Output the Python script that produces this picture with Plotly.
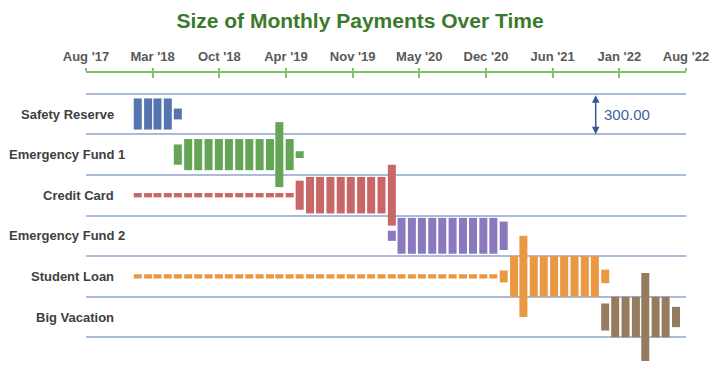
import numpy as np
import pandas as pd
import plotly.graph_objects as go

# ---------------- data ----------------
row_names = ["Safety Reserve", "Emergency Fund 1", "Credit Card",
             "Emergency Fund 2", "Student Loan", "Big Vacation"]
row_colors = ["#5674AD", "#65A556", "#C96767", "#8A79BF", "#EB9843", "#967C5F"]
row_starts = ["2018-01-01", "2018-05-01", "2018-01-01",
              "2020-02-01", "2018-01-01", "2021-11-01"]

safety_reserve = [230, 230, 230, 230, 80]
emergency_fund_1 = [150, 230, 230, 230, 230, 230, 230, 230, 230, 230, 480, 230, 50]
credit_card = [32, 32, 32, 32, 32, 32, 32, 32, 32, 32, 32, 32, 32, 32, 32, 32,
               215, 270, 270, 270, 270, 270, 270, 270, 270, 450]
emergency_fund_2 = [75, 265, 265, 265, 265, 265, 265, 265, 265, 265, 265, 210]
student_loan = [32, 32, 32, 32, 32, 32, 32, 32, 32, 32, 32, 32,
                32, 32, 32, 32, 32, 32, 32, 32, 32, 32, 32, 32,
                32, 32, 32, 32, 32, 32, 32, 32, 32, 32, 32, 32,
                88, 300, 600, 300, 300, 300, 300, 300, 300, 300, 100]
big_vacation = [200, 300, 300, 300, 650, 300, 300, 150]

row_values = [safety_reserve, emergency_fund_1, credit_card,
              emergency_fund_2, student_loan, big_vacation]

tick_labels = ["Aug '17", "Mar '18", "Oct '18", "Apr '19", "Nov '19",
               "May '20", "Dec '20", "Jun '21", "Jan '22", "Aug '22"]
x_start, x_end = "2017-07-30", "2022-07-01"

scale_value = 300.0   # height of one row in payment units

# ---------------- figure ----------------
n_rows = len(row_names)
row_h = scale_value
bar_width_ms = 24 * 86400000

fig = go.Figure()
for i, (name, vals, start, col) in enumerate(zip(row_names, row_values, row_starts, row_colors)):
    center = (n_rows - i - 0.5) * row_h
    dates = pd.date_range(start, periods=len(vals), freq="MS")
    v = np.array(vals, dtype=float)
    fig.add_trace(go.Bar(
        x=dates, y=v, base=center - v / 2, name=name,
        marker=dict(color=col, line=dict(width=0)),
        width=bar_width_ms, showlegend=False,
        hovertemplate=name + "<br>%{x|%b %Y}: %{y}<extra></extra>",
    ))

t0 = pd.Timestamp(x_start).value
t1 = pd.Timestamp(x_end).value
tickvals = pd.to_datetime(np.linspace(t0, t1, len(tick_labels)))

axis_green = "#7DC46D"
fig.update_layout(
    width=720, height=369,
    margin=dict(l=86, r=34, t=73, b=4, autoexpand=False),
    paper_bgcolor="white", plot_bgcolor="white",
    barmode="overlay",
    title=dict(text="<b>Size of Monthly Payments Over Time</b>",
               font=dict(family="Liberation Sans, Arial, sans-serif", size=21, color="#3A7A2A"),
               x=0.5, xref="container", xanchor="center",
               y=1 - 21 / 369, yref="container", yanchor="middle", automargin=False),
    xaxis=dict(type="date", side="top", range=[x_start, x_end], automargin=False,
               tickvals=tickvals, ticktext=tick_labels, ticklabelstandoff=2,
               tickfont=dict(family="Liberation Sans, Arial, sans-serif", size=13,
                             color="#595959", weight="bold"),
               showline=True, linecolor=axis_green, linewidth=2,
               ticks="outside", ticklen=3, tickwidth=2, tickcolor=axis_green,
               showgrid=False, zeroline=False, fixedrange=True),
    xaxis2=dict(type="date", side="top", overlaying="x", range=[x_start, x_end],
                automargin=False,
                tickvals=tickvals, ticktext=["" for _ in tick_labels],
                showline=False, ticks="inside", ticklen=5, tickwidth=2,
                tickcolor=axis_green, showgrid=False, zeroline=False,
                showticklabels=False),
    yaxis=dict(range=[-204.7, 1953], tickvals=[row_h * k for k in range(n_rows + 1)],
               automargin=False,
               showticklabels=False, showgrid=True, gridcolor="#A9BADB", gridwidth=1.5,
               zeroline=False, showline=False, ticks=""),
)

# invisible trace to anchor xaxis2
fig.add_trace(go.Scatter(x=[x_start], y=[0], xaxis="x2", mode="markers",
                         marker=dict(opacity=0), showlegend=False, hoverinfo="skip"))

# row labels
for i, name in enumerate(row_names):
    center = (n_rows - i - 0.5) * row_h
    long_label = len(name) > 14
    fig.add_annotation(
        text="<b>" + name + "</b>", xref="paper", yref="y",
        x=(7 - 86) / 600 if long_label else (116 - 86) / 600,
        xanchor="left" if long_label else "right",
        y=center, yanchor="middle", showarrow=False,
        font=dict(family="Liberation Sans, Arial, sans-serif", size=13, color="#404040"),
    )

# scale indicator
top_line = n_rows * row_h
fig.add_annotation(
    xref="paper", yref="y", x=(595.7 - 86) / 600, y=top_line - scale_value,
    axref="pixel", ayref="y", ax=0, ay=top_line,
    text="", showarrow=True, arrowside="end+start",
    arrowhead=2, startarrowhead=2, arrowsize=1, startarrowsize=1,
    arrowwidth=1.5, arrowcolor="#35589A", standoff=0, startstandoff=0,
)
fig.add_annotation(
    xref="paper", yref="y", x=(602 - 86) / 600, xanchor="left",
    y=top_line - scale_value / 2, yanchor="middle",
    text=f"{scale_value:.2f}", showarrow=False,
    font=dict(family="Liberation Sans, Arial, sans-serif", size=15, color="#3F5FA0"),
)

fig.write_html("out.html", config={"displayModeBar": False},
               post_script="document.body.style.margin='0';")
